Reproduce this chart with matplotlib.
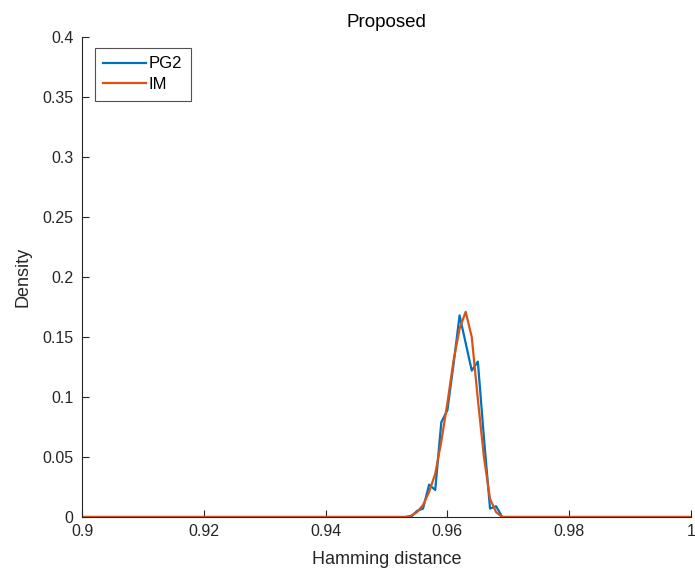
import matplotlib
matplotlib.use("Agg")
import matplotlib.pyplot as plt

plt.rcParams['font.family'] = ['Liberation Sans', 'DejaVu Sans']

# PG2 series (Hamming distance, density)
pg2_x = [0.900, 0.953, 0.954, 0.955, 0.956, 0.957, 0.958, 0.959, 0.960, 0.961,
         0.962, 0.963, 0.964, 0.965, 0.966, 0.967, 0.968, 0.969, 1.000]
pg2_y = [0.0, 0.0, 0.0, 0.005, 0.007, 0.027, 0.0225, 0.079, 0.089, 0.127,
         0.168, 0.145, 0.122, 0.1295, 0.066, 0.007, 0.009, 0.0, 0.0]

# IM series
im_x = [0.900, 0.953, 0.954, 0.955, 0.956, 0.957, 0.958, 0.959, 0.960, 0.961,
        0.962, 0.963, 0.964, 0.965, 0.966, 0.967, 0.968, 0.969, 1.000]
im_y = [0.0, 0.0, 0.001, 0.004, 0.010, 0.021, 0.036, 0.063, 0.095, 0.130,
        0.157, 0.171, 0.150, 0.098, 0.050, 0.015, 0.004, 0.0, 0.0]

x_ticks = [0.9, 0.92, 0.94, 0.96, 0.98, 1.0]
x_tick_labels = ['0.9', '0.92', '0.94', '0.96', '0.98', '1']
y_ticks = [0, 0.05, 0.1, 0.15, 0.2, 0.25, 0.3, 0.35, 0.4]
y_tick_labels = ['0', '0.05', '0.1', '0.15', '0.2', '0.25', '0.3', '0.35', '0.4']

fig = plt.figure(figsize=(6.95, 5.8), dpi=100)
ax = fig.add_axes([82/695, 63/580, 609/695, 480/580])

ax.plot(pg2_x, pg2_y, color='#0072BD', lw=1.6, label='PG2')
ax.plot(im_x, im_y, color='#D95319', lw=1.6, label='IM')

ax.set_xlim(0.9, 1.0)
ax.set_ylim(0, 0.4)
ax.set_xticks(x_ticks)
ax.set_xticklabels(x_tick_labels)
ax.set_yticks(y_ticks)
ax.set_yticklabels(y_tick_labels)

for s in ['top', 'right']:
    ax.spines[s].set_visible(False)
for s in ['left', 'bottom']:
    ax.spines[s].set_color('#262626')
    ax.spines[s].set_linewidth(0.8)
ax.tick_params(direction='in', length=5, width=0.8, colors='#262626',
               labelsize=11.5, labelcolor='#262626')
ax.tick_params(axis='y', pad=6)
ax.tick_params(axis='x', pad=5)

ax.set_title('Proposed', fontsize=13.5, color='black', pad=7)
ax.set_xlabel('Hamming distance', fontsize=13, color='#262626', labelpad=9)
ax.set_ylabel('Density', fontsize=13, color='#262626', labelpad=8)

leg = ax.legend(loc='upper left', bbox_to_anchor=(0.021, 0.977), fontsize=12,
                frameon=True, fancybox=False, handlelength=2.6,
                handletextpad=0.15, borderpad=0.5, labelspacing=0.35,
                borderaxespad=0)
leg.get_frame().set_edgecolor('#262626')
leg.get_frame().set_linewidth(0.8)

fig.savefig('out.png', dpi=100, facecolor='white')
